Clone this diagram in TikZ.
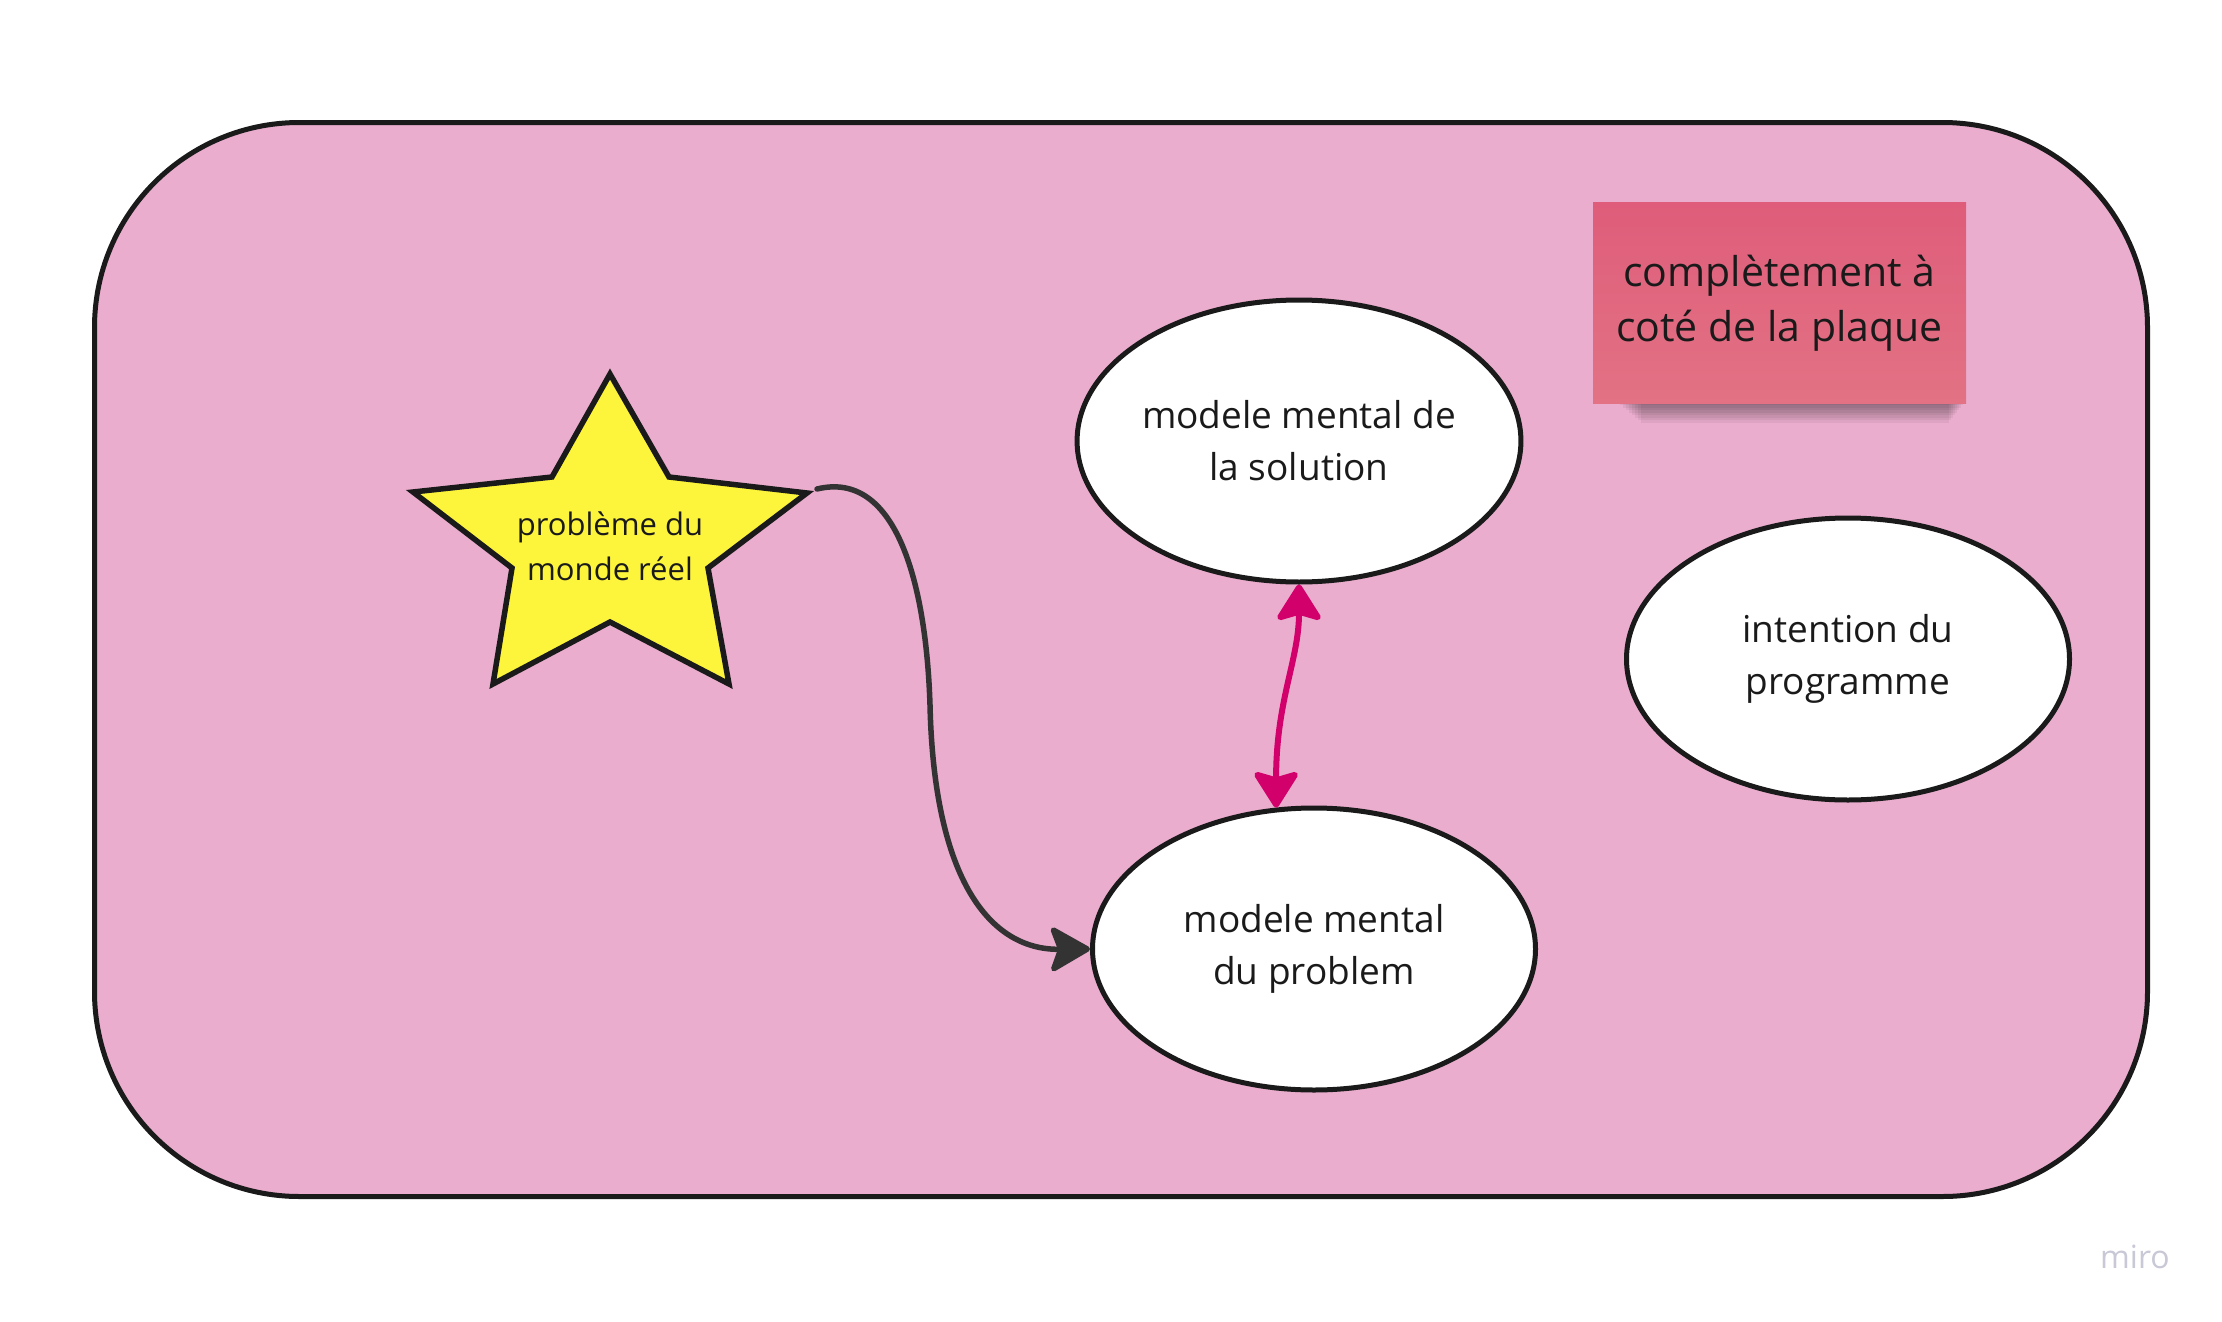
\documentclass[tikz,border=0pt]{standalone}
\usepackage{fontspec}
\setmainfont{Open Sans}
\usetikzlibrary{arrows.meta,shapes.geometric}
\definecolor{bgpink}{HTML}{EBADCE}
\definecolor{staryellow}{HTML}{FDF43C}
\definecolor{stickytop}{HTML}{DF5D7A}
\definecolor{stickybot}{HTML}{E27284}
\definecolor{magarrow}{HTML}{D1006B}
\definecolor{darkline}{HTML}{333333}
\definecolor{outline}{HTML}{1A1A1A}
\definecolor{textcol}{HTML}{1A1A1A}
\definecolor{mirocol}{HTML}{C8C8D6}
\begin{document}
\begin{tikzpicture}[x=1pt,y=-1pt,
  ell/.style={ellipse, draw=outline, line width=5pt, fill=white, inner sep=0pt,
    minimum width=443pt, minimum height=282pt, align=center, text=textcol,
    font=\fontsize{37}{52}\selectfont},
  frame/.style={draw=outline, line width=5pt, fill=bgpink, rounded corners=205pt},
  starshape/.style={draw=outline, line width=5.5pt, fill=staryellow, line join=miter},
  startext/.style={inner sep=0pt, align=center, text=textcol, font=\fontsize{31}{45}\selectfont},
  sticky/.style={rectangle, inner sep=0pt, minimum width=373pt, minimum height=201pt,
    top color=stickytop, bottom color=stickybot, align=center, text=textcol,
    font=\fontsize{41}{55}\selectfont},
  darkconn/.style={draw=darkline, line width=5.5pt, line cap=round,
    -{Stealth[length=44pt, width=50pt, inset=9pt, round]}},
  magconn/.style={draw=magarrow, line width=6pt, line cap=round,
    {Stealth[length=40pt, width=50pt, inset=7pt, round]}-{Stealth[length=40pt, width=50pt, inset=7pt, round]}},
  mirologo/.style={inner sep=0pt, anchor=base, text=mirocol, font=\fontsize{32}{32}\selectfont}
]
\useasboundingbox (0,0) rectangle (2222,1322);
\fill[white] (0,0) rectangle (2222,1322);

% frame
\path[frame] (94.5,122.5) rectangle (2147.5,1196.5);

% star
\coordinate (st1) at (610,374);
\coordinate (st2) at (669,477);
\coordinate (st3) at (807,493);
\coordinate (st4) at (708,568);
\coordinate (st5) at (729,684);
\coordinate (st6) at (610,622);
\coordinate (st7) at (493,684);
\coordinate (st8) at (512,568);
\coordinate (st9) at (413,492);
\coordinate (st10) at (552,477);
\path[starshape] (st1) -- (st2) -- (st3) -- (st4) -- (st5) -- (st6) -- (st7) -- (st8) -- (st9) -- (st10) -- cycle;
\node[startext] (star) at (610,546) {problème du\\monde réel};

% ellipses
\node[ell] (sol) at (1299,441) {modele mental de\\la solution};
\node[ell] (prob) at (1314,949) {modele mental\\du problem};
\node[ell] (intent) at (1848,659) {intention du\\programme};

% sticky note shadow
\foreach \i in {0,...,7}{
  \fill[black, opacity=0.055] (1620+3*\i,396) rectangle (1963-2*\i,405+2.5*\i);
}
\node[sticky] (note) at (1779.5,303) {complètement à\\coté de la plaque};

% connectors
\coordinate (cstart) at (817,489);
\coordinate (cmid) at (930,705);
\path[darkconn] (cstart) .. controls (895,470) and (926,580) .. (cmid)
  .. controls (934,880) and (990,950) .. (prob.west);
\path[magconn] (sol.south) .. controls (1299,660) and (1276,700) .. (prob.105);

% logo
\node[mirologo] (miro) at (2135,1268) {miro};
\end{tikzpicture}
\end{document}
